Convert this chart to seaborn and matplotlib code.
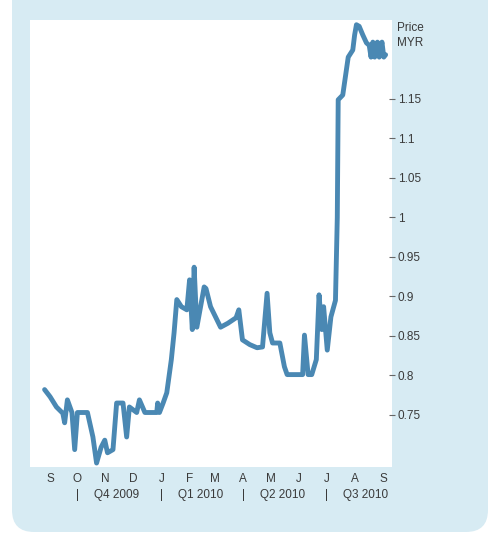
import pandas as pd
import numpy as np
import seaborn as sns
import matplotlib.pyplot as plt
import matplotlib.transforms as mtransforms
from matplotlib.patches import FancyBboxPatch

# 数据：价格（MYR）
dates = ["2009-08-26", "2009-09-01", "2009-09-08", "2009-09-15", "2009-09-17",
         "2009-09-20", "2009-09-25", "2009-09-28", "2009-10-01", "2009-10-12",
         "2009-10-18", "2009-10-22", "2009-10-27", "2009-10-31", "2009-11-03",
         "2009-11-09", "2009-11-13", "2009-11-20", "2009-11-24", "2009-11-27",
         "2009-12-05", "2009-12-08", "2009-12-14", "2009-12-27", "2009-12-28",
         "2009-12-30", "2010-01-03", "2010-01-07", "2010-01-12", "2010-01-15",
         "2010-01-18", "2010-01-23", "2010-01-29", "2010-02-01", "2010-02-04",
         "2010-02-06", "2010-02-09", "2010-02-17", "2010-02-19", "2010-02-24",
         "2010-03-07", "2010-03-15", "2010-03-24", "2010-03-27", "2010-03-31",
         "2010-04-08", "2010-04-16", "2010-04-22", "2010-04-27", "2010-04-30",
         "2010-05-03", "2010-05-11", "2010-05-16", "2010-05-19", "2010-06-05",
         "2010-06-07", "2010-06-11", "2010-06-15", "2010-06-20", "2010-06-23",
         "2010-06-26", "2010-06-28", "2010-07-02", "2010-07-06", "2010-07-11",
         "2010-07-13", "2010-07-14", "2010-07-19", "2010-07-23", "2010-07-25",
         "2010-07-30", "2010-08-01", "2010-08-03", "2010-08-06", "2010-08-10",
         "2010-08-14", "2010-08-17", "2010-08-19", "2010-08-21", "2010-08-23",
         "2010-08-26", "2010-08-28", "2010-08-31", "2010-09-02", "2010-09-04"]
price = [0.782, 0.773, 0.760, 0.752, 0.740,
         0.769, 0.753, 0.706, 0.753, 0.753,
         0.722, 0.689, 0.709, 0.718, 0.702,
         0.706, 0.765, 0.765, 0.722, 0.760,
         0.753, 0.769, 0.753, 0.753, 0.765,
         0.753, 0.765, 0.778, 0.820, 0.854,
         0.896, 0.887, 0.883, 0.921, 0.858,
         0.937, 0.861, 0.912, 0.910, 0.887,
         0.861, 0.866, 0.873, 0.883, 0.845,
         0.839, 0.835, 0.836, 0.904, 0.854,
         0.841, 0.841, 0.811, 0.801, 0.801,
         0.851, 0.801, 0.801, 0.820, 0.902,
         0.858, 0.887, 0.832, 0.874, 0.895,
         1.000, 1.149, 1.155, 1.187, 1.203,
         1.212, 1.231, 1.244, 1.242, 1.231,
         1.221, 1.218, 1.203, 1.222, 1.203,
         1.222, 1.203, 1.222, 1.203, 1.206]

month_labels = ["S", "O", "N", "D", "J", "F", "M", "A", "M", "J", "J", "A", "S"]
quarter_labels = ["Q4 2009", "Q1 2010", "Q2 2010", "Q3 2010"]
quarter_starts = ["2009-10-01", "2010-01-01", "2010-04-01", "2010-07-01"]
y_ticks = [0.75, 0.8, 0.85, 0.9, 0.95, 1.0, 1.05, 1.1, 1.15]
y_labels = ["0.75", "0.8", "0.85", "0.9", "0.95", "1", "1.05", "1.1", "1.15"]

df = pd.DataFrame({"date": pd.to_datetime(dates), "price": price})

sns.set_theme(style="white")
plt.rcParams['font.family'] = ['Liberation Sans', 'DejaVu Sans']

text_col = "#3a3a3a"
panel_col = "#d7ebf3"
line_col = "#4a88b3"

fig = plt.figure(figsize=(4.91, 5.36), dpi=100, facecolor="white")
# 浅蓝色圆角底板（放在坐标轴下面）
panel = FancyBboxPatch((12, 4), 476, 600, boxstyle="round,pad=0,rounding_size=22",
                       transform=None, facecolor=panel_col, edgecolor="none", zorder=-10)
fig.patches.append(panel)

ax = fig.add_axes([30 / 491, 69 / 536, 362 / 491, 447 / 536])
ax.set_facecolor("white")
ax.set_zorder(1)

sns.lineplot(data=df, x="date", y="price", ax=ax, color=line_col,
             linewidth=3.5, solid_joinstyle="round", solid_capstyle="round")

ax.set_xlim(pd.Timestamp("2009-08-10"), pd.Timestamp("2010-09-11"))
ax.set_ylim(0.684, 1.25)
for s in ax.spines.values():
    s.set_visible(False)

# y轴在右侧
ax.yaxis.tick_right()
ax.set_yticks(y_ticks)
ax.set_yticklabels(y_labels)
ax.tick_params(axis="y", direction="inout", length=5, width=0.8, color="#666666",
               pad=1.5, labelsize=8.5, labelcolor=text_col, right=True)

# x轴：月份字母
months = pd.date_range("2009-09-01", "2010-09-01", freq="MS")
ax.set_xticks(months)
ax.set_xticklabels(month_labels)
ax.tick_params(axis="x", length=0, pad=4.5, labelsize=8.5, labelcolor=text_col)
ax.set_xlabel("")
ax.set_ylabel("")

# 季度标签
trans = mtransforms.blended_transform_factory(ax.transData, ax.transAxes)
for q, lab in zip(quarter_starts, quarter_labels):
    qs = pd.Timestamp(q)
    ax.text(qs, -0.063, "|", transform=trans, ha="center", va="center",
            fontsize=8.5, color=text_col)
    ax.text(qs + pd.Timedelta(days=43), -0.063, lab, transform=trans,
            ha="center", va="center", fontsize=8.5, color=text_col)

fig.text(397 / 491, 1 - 28 / 536, "Price", fontsize=8.5, color=text_col,
         ha="left", va="center")
fig.text(397 / 491, 1 - 43 / 536, "MYR", fontsize=8.5, color=text_col,
         ha="left", va="center")

plt.savefig("out.png", dpi=100, facecolor=fig.get_facecolor())
